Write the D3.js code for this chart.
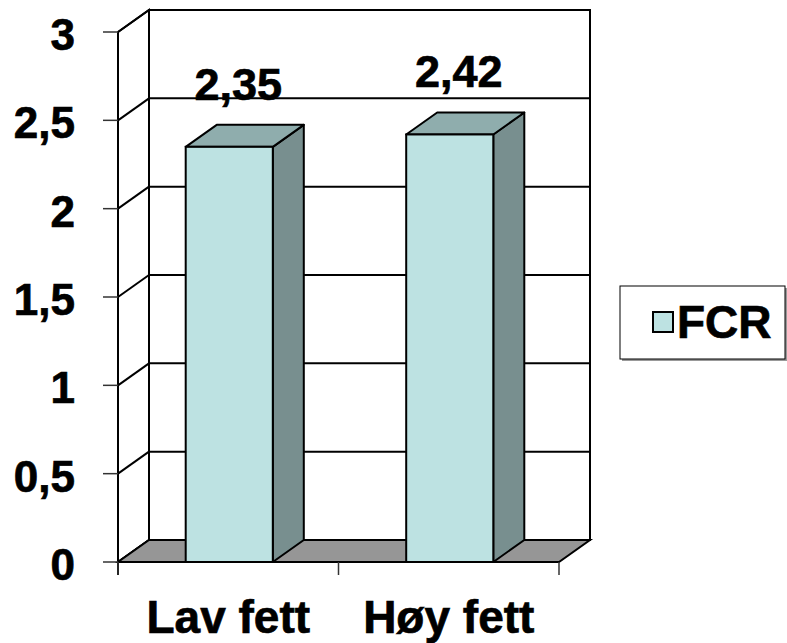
<!DOCTYPE html>
<html>
<head>
<meta charset="utf-8">
<script src="https://cdn.jsdelivr.net/npm/d3@7"></script>
<style>
  html, body { margin: 0; padding: 0; background: #fff; }
  svg { display: block; }
  text { font-family: "Liberation Sans", Arial, sans-serif; font-weight: bold; fill: #000; stroke: #000; stroke-width: 0.7px; }
</style>
</head>
<body>
<svg id="chart" width="787" height="643"></svg>
<script>
// ---- data ----
const categories = ["Lav fett", "Høy fett"];
const fcrValues = [2.35, 2.42];
const valueLabels = ["2,35", "2,42"];
const seriesName = "FCR";
const yTicks = [0, 0.5, 1, 1.5, 2, 2.5, 3];
const yTickLabels = ["0", "0,5", "1", "1,5", "2", "2,5", "3"];

// ---- layout ----
const svg = d3.select("#chart");
const pL = 118, pR = 559, pB = 562, pT = 32;
const dx = 31, dy = -22;            // 3D depth offset
const frontCol = "#bde2e2", topCol = "#8fadad", sideCol = "#788f8f", floorCol = "#969696";

const x = d3.scaleBand().domain(categories).range([pL, pR]).padding(0);
const y = d3.scaleLinear().domain([0, 3]).range([pB, pT]);
const barW = x.bandwidth() * 0.395;

const line = d3.line();

// back wall
svg.append("rect")
  .attr("x", pL + dx).attr("y", pT + dy)
  .attr("width", pR - pL).attr("height", pB - pT)
  .attr("fill", "#fff").attr("stroke", "#000").attr("stroke-width", 2);

// left wall
svg.append("path")
  .attr("d", line([[pL, y(3)], [pL + dx, y(3) + dy], [pL + dx, y(0) + dy], [pL, y(0)]]) + "Z")
  .attr("fill", "#fff").attr("stroke", "#000").attr("stroke-width", 2);

// gridlines (back wall + left wall diagonals)
yTicks.forEach(t => {
  if (t > 0 && t < 3) {
    svg.append("line")
      .attr("x1", pL + dx).attr("x2", pR + dx)
      .attr("y1", y(t) + dy).attr("y2", y(t) + dy)
      .attr("stroke", "#000").attr("stroke-width", 2);
  }
  svg.append("line")
    .attr("x1", pL).attr("y1", y(t))
    .attr("x2", pL + dx).attr("y2", y(t) + dy)
    .attr("stroke", "#000").attr("stroke-width", 2);
});

// floor
svg.append("path")
  .attr("d", line([[pL, pB], [pR, pB], [pR + dx, pB + dy], [pL + dx, pB + dy]]) + "Z")
  .attr("fill", floorCol).attr("stroke", "#000").attr("stroke-width", 2);

// y axis line + ticks
svg.append("line")
  .attr("x1", pL).attr("x2", pL).attr("y1", y(3)).attr("y2", pB + 13)
  .attr("stroke", "#000").attr("stroke-width", 2);
yTicks.forEach((t, i) => {
  svg.append("line")
    .attr("x1", pL - 15).attr("x2", pL).attr("y1", y(t)).attr("y2", y(t))
    .attr("stroke", "#333").attr("stroke-width", 1.5);
  svg.append("text")
    .attr("x", 75).attr("y", y(t) + 18)
    .attr("text-anchor", "end").attr("font-size", 44)
    .text(yTickLabels[i]);
});

// x axis ticks
const xTickPos = [pL, pL + x.step(), pR];
xTickPos.forEach(p => {
  svg.append("line")
    .attr("x1", p).attr("x2", p).attr("y1", pB).attr("y2", pB + 13)
    .attr("stroke", "#333").attr("stroke-width", 1.5);
});

// bars
categories.forEach((c, i) => {
  const cx = x(c) + x.bandwidth() / 2 + 1;
  const x0 = cx - barW / 2, x1 = cx + barW / 2;
  const yt = y(fcrValues[i]);
  const g = svg.append("g");
  g.append("path")
    .attr("d", line([[x1, yt], [x1 + dx, yt + dy], [x1 + dx, pB + dy], [x1, pB]]) + "Z")
    .attr("fill", sideCol).attr("stroke", "#000").attr("stroke-width", 2).attr("stroke-linejoin", "round");
  g.append("path")
    .attr("d", line([[x0, yt], [x0 + dx, yt + dy], [x1 + dx, yt + dy], [x1, yt]]) + "Z")
    .attr("fill", topCol).attr("stroke", "#000").attr("stroke-width", 2).attr("stroke-linejoin", "round");
  g.append("rect")
    .attr("x", x0).attr("y", yt).attr("width", barW).attr("height", pB - yt)
    .attr("fill", frontCol).attr("stroke", "#000").attr("stroke-width", 2);
  svg.append("text")
    .attr("x", cx + 9).attr("y", yt + dy - 25)
    .attr("text-anchor", "middle").attr("font-size", 45)
    .text(valueLabels[i]);
  svg.append("text")
    .attr("x", x(c) + x.bandwidth() / 2).attr("y", 633)
    .attr("text-anchor", "middle").attr("font-size", 46)
    .text(c);
});

// legend
svg.append("rect").attr("x", 622).attr("y", 288).attr("width", 165).attr("height", 73).attr("fill", "#999");
svg.append("rect").attr("x", 620).attr("y", 286).attr("width", 165).attr("height", 73)
  .attr("fill", "#fff").attr("stroke", "#000").attr("stroke-width", 1);
svg.append("rect").attr("x", 653).attr("y", 312).attr("width", 20).attr("height", 20)
  .attr("fill", frontCol).attr("stroke", "#000").attr("stroke-width", 2);
svg.append("text").attr("x", 677).attr("y", 338).attr("font-size", 46).text(seriesName);
</script>
</body>
</html>
